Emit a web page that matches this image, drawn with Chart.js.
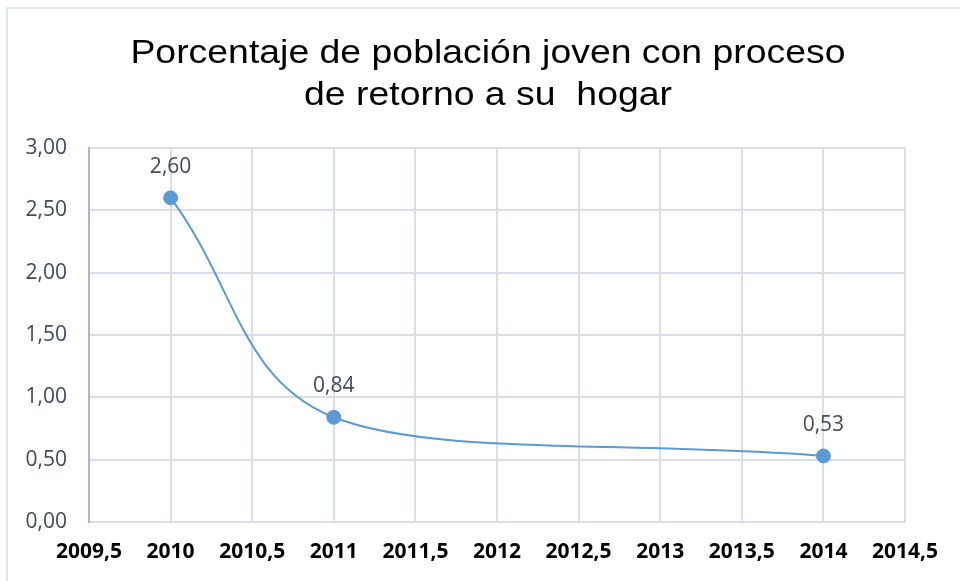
<!DOCTYPE html>
<html><head><meta charset="utf-8">
<script src="https://cdn.jsdelivr.net/npm/chart.js@4"></script>
<style>
html,body{margin:0;padding:0;background:#fff;}
#wrap{position:relative;width:960px;height:581px;overflow:hidden;background:#fff;}
#frame{position:absolute;left:6px;top:7px;width:1000px;height:1000px;border-left:2px solid #e2e5ea;border-top:2px solid #e2e5ea;}
#title{position:absolute;left:0;top:30px;width:976px;text-align:center;font-family:"Liberation Sans",Arial,sans-serif;font-size:34px;line-height:42px;color:#000;transform:scaleX(1.1);transform-origin:488px 0;white-space:nowrap;}
canvas{position:absolute;left:0;top:0;}
</style></head>
<body>
<div id="wrap">
<div id="frame"></div>
<canvas id="c" width="960" height="581"></canvas>
<div id="title">Porcentaje de población joven con proceso<br>de retorno a su&nbsp; hogar</div>
</div>
<script>
const years = [2010, 2011, 2014];
const values = [2.60, 0.84, 0.53];
const xMin = 2009.5, xMax = 2014.5, xStep = 0.5;
const yMin = 0, yMax = 3, yStep = 0.5;

const fmtComma = (v, d) => (d === undefined ? String(v) : v.toFixed(d)).replace('.', ',');

// Keep the smoothed curve from overshooting past neighbouring points (Excel-like smoothing)
const noOvershoot = {
  id: 'noOvershoot',
  beforeDatasetDraw(chart, args) {
    const meta = args.meta;
    const line = meta.dataset;
    if (!line || typeof line.updateControlPoints !== 'function') return;
    line.updateControlPoints(chart.chartArea, 'x');
    const pts = meta.data;
    for (let i = 0; i < pts.length; i++) {
      const p = pts[i];
      let f = 1;
      if (i < pts.length - 1) {
        const dy = p.cp2y - p.y, lim = pts[i + 1].y - p.y;
        if (dy !== 0 && Math.sign(dy) === Math.sign(lim) && Math.abs(dy) > Math.abs(lim)) f = Math.min(f, lim / dy);
      }
      if (i > 0) {
        const dy = p.cp1y - p.y, lim = pts[i - 1].y - p.y;
        if (dy !== 0 && Math.sign(dy) === Math.sign(lim) && Math.abs(dy) > Math.abs(lim)) f = Math.min(f, lim / dy);
      }
      if (i < pts.length - 1) {
        const dy = p.cp2y - p.y, lim = pts[i + 1].y - p.y;
        if (dy !== 0 && Math.abs(dy) > Math.abs(lim)) {
          const g = Math.abs(lim / dy);
          p.cp2x = p.x + (p.cp2x - p.x) * g; p.cp2y = p.y + (p.cp2y - p.y) * g;
        }
      }
    }
  }
};

const dataLabels = {
  id: 'dataLabels',
  afterDatasetsDraw(chart) {
    const ctx = chart.ctx;
    const meta = chart.getDatasetMeta(0);
    ctx.save();
    ctx.font = '21px "Open Sans", sans-serif';
    ctx.fillStyle = '#404a5a';
    ctx.textAlign = 'center';
    ctx.textBaseline = 'middle';
    meta.data.forEach((pt, i) => {
      ctx.fillText(fmtComma(values[i], 2), pt.x, pt.y - 31);
    });
    ctx.restore();
  }
};

new Chart(document.getElementById('c'), {
  type: 'line',
  data: {
    datasets: [{
      data: years.map((x, i) => ({x: x, y: values[i]})),
      borderColor: '#5b9bd5',
      backgroundColor: '#5b9bd5',
      borderWidth: 2,
      pointRadius: 7,
      pointBorderWidth: 1,
      pointBorderColor: '#5b9bd5',
      pointBackgroundColor: '#5b9bd5',
      tension: 0.4,
      fill: false
    }]
  },
  options: {
    responsive: false,
    animation: false,
    layout: {padding: {left: 0, right: 55, top: 148, bottom: 0}},
    plugins: {legend: {display: false}, tooltip: {enabled: false}},
    scales: {
      x: {
        type: 'linear', min: xMin, max: xMax,
        afterFit(s) { s.height = 59; },
        grid: {color: '#dadee6', lineWidth: 2, drawTicks: false},
        border: {color: '#dadee6', width: 2},
        ticks: {
          stepSize: xStep, padding: 17, maxRotation: 0, autoSkip: false,
          color: '#000',
          font: {family: '"Open Sans", sans-serif', size: 21, weight: 'bold'},
          callback: v => fmtComma(v)
        }
      },
      y: {
        min: yMin, max: yMax,
        afterFit(s) { s.width = 89; },
        grid: {color: '#dadee6', lineWidth: 2, drawTicks: false},
        border: {color: '#a9b6cc', width: 2},
        ticks: {
          stepSize: yStep, padding: 22,
          color: '#404a5a',
          font: {family: '"Open Sans", sans-serif', size: 21},
          callback: v => fmtComma(v, 2)
        }
      }
    }
  },
  plugins: [noOvershoot, dataLabels]
});
</script>
</body></html>
